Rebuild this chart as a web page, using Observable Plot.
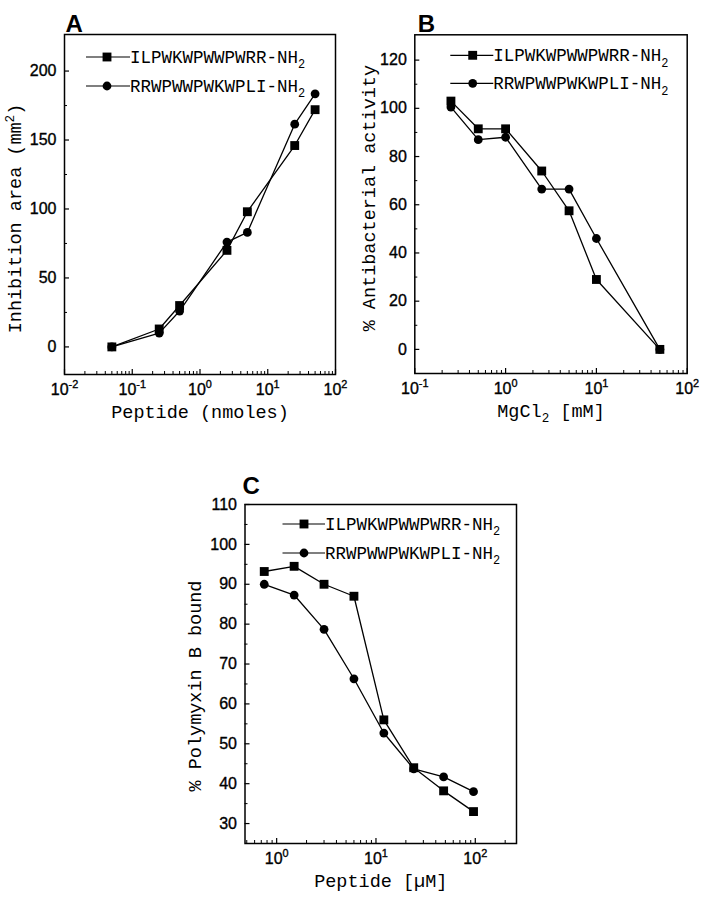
<!DOCTYPE html>
<html><head><meta charset="utf-8">
<script src="https://cdn.jsdelivr.net/npm/d3@7"></script>
<script src="https://cdn.jsdelivr.net/npm/@observablehq/plot@0.6"></script>
<style>
body{margin:0;background:#fff;}
#wrap{position:relative;width:701px;height:899px;background:#fff;}
.panel{position:absolute;}
g[aria-label="x-axis tick label"] text, g[aria-label="y-axis tick label"] text{stroke:#000;stroke-width:0.35px;}
</style></head><body><div id="wrap"></div>
<script>
// ---- data ----
const seriesNames = ["ILPWKWPWWPWRR-NH_{2}", "RRWPWWPWKWPLI-NH_{2}"];

// Panel A: inhibition area vs peptide amount
const aPeptide = [0.05, 0.25, 0.5, 2.5, 5, 25, 50];
const aSquare  = [0, 13, 30, 70, 98, 146, 172];
const aCircle  = [0, 10, 26, 76, 83, 161.5, 183.5];
const aXTicks  = [0.01, 0.1, 1, 10, 100];
const aXLabels = ["10^{-2}", "10^{-1}", "10^{0}", "10^{1}", "10^{2}"];
const aYTicks  = [0, 50, 100, 150, 200];
const aYMinor  = [25, 75, 125, 175];

// Panel B: % antibacterial activity vs MgCl2
const bMgCl2   = [0.25, 0.5, 1, 2.5, 5, 10, 50];
const bSquare  = [103, 91.5, 91.5, 74, 57.5, 29, 0];
const bCircle  = [100.5, 87, 88, 66.5, 66.5, 46, 0];
const bXTicks  = [0.1, 1, 10, 100];
const bXLabels = ["10^{-1}", "10^{0}", "10^{1}", "10^{2}"];
const bYTicks  = [0, 20, 40, 60, 80, 100, 120];
const bYMinor  = [10, 30, 50, 70, 90, 110];

// Panel C: % polymyxin B bound vs peptide concentration
const cPeptide = [0.75, 1.5, 3, 6, 12, 24, 48, 96];
const cSquare  = [93.2, 94.5, 90, 87, 56, 44, 38.2, 33];
const cCircle  = [90, 87.3, 78.7, 66.3, 52.7, 43.7, 41.7, 38];
const cXTicks  = [1, 10, 100];
const cXLabels = ["10^{0}", "10^{1}", "10^{2}"];
const cYTicks  = [30, 40, 50, 60, 70, 80, 90, 100, 110];
const cYMinor  = [35, 45, 55, 65, 75, 85, 95, 105];

// ---- helpers ----
function logMinor(lo, hi) {
  const out = [];
  for (let e = Math.floor(Math.log10(lo)); e <= Math.ceil(Math.log10(hi)); e++)
    for (let k = 2; k <= 9; k++) { const v = k * Math.pow(10, e); if (v >= lo && v <= hi) out.push(v); }
  return out;
}
const NS = "http://www.w3.org/2000/svg";
function richify(root) {
  root.querySelectorAll("text").forEach(t => {
    const s = t.textContent;
    if (!/[\^_]\{/.test(s)) return;
    const fs = parseFloat(getComputedStyle(t).fontSize) || 16;
    t.textContent = "";
    const parts = []; const re = /([\^_])\{([^}]*)\}/g; let last = 0, m;
    while ((m = re.exec(s))) {
      if (m.index > last) parts.push([s.slice(last, m.index), 0]);
      parts.push([m[2], m[1] === "^" ? -1 : 1]); last = re.lastIndex;
    }
    if (last < s.length) parts.push([s.slice(last), 0]);
    let cur = 0;
    for (const [str, k] of parts) {
      const ts = document.createElementNS(NS, "tspan");
      const target = k < 0 ? -0.42 * fs : k > 0 ? 0.3 * fs : 0;
      if (target - cur !== 0) ts.setAttribute("dy", target - cur);
      cur = target;
      if (k) ts.setAttribute("font-size", 0.68 * fs);
      ts.textContent = str; t.appendChild(ts);
    }
  });
}

function panel(cfg) {
  const fw = cfg.width - cfg.ml - cfg.mr, fh = cfg.height - cfg.mt - cfg.mb;
  const sq = cfg.x.map((x, i) => ({x, y: cfg.sq[i]}));
  const ci = cfg.x.map((x, i) => ({x, y: cfg.ci[i]}));
  const fmt = new Map(cfg.xTicks.map((t, i) => [t, cfg.xLabels[i]]));
  const chart = Plot.plot({
    width: cfg.width, height: cfg.height,
    marginLeft: cfg.ml, marginRight: cfg.mr, marginTop: cfg.mt, marginBottom: cfg.mb,
    style: {fontFamily: "'Liberation Sans', Arial, sans-serif", fontSize: "16px", background: "transparent", color: "#000", overflow: "visible"},
    x: {type: "log", domain: cfg.xDomain, axis: null},
    y: {domain: cfg.yDomain, axis: null},
    marks: [
      Plot.tickX(cfg.xTicks, {x: d => d, insetTop: fh - 5, stroke: "#000", strokeWidth: 1.2}),
      Plot.tickX(logMinor(cfg.xDomain[0], cfg.xDomain[1]), {x: d => d, insetTop: fh - 3, stroke: "#000", strokeWidth: 1}),
      Plot.tickY(cfg.yTicks, {y: d => d, insetRight: fw - 5, stroke: "#000", strokeWidth: 1.2}),
      Plot.tickY(cfg.yMinor, {y: d => d, insetRight: fw - 3, stroke: "#000", strokeWidth: 1}),
      Plot.axisX({ticks: cfg.xTicks, tickSize: 0, tickPadding: 9, tickFormat: d => fmt.get(d), label: null, fontSize: 16}),
      Plot.axisY({ticks: cfg.yTicks, tickSize: 0, tickPadding: 8, label: null, fontSize: 16}),
      Plot.frame({stroke: "#000", strokeWidth: 1.5}),
      Plot.line(sq, {x: "x", y: "y", stroke: "#000", strokeWidth: 1.3}),
      Plot.line(ci, {x: "x", y: "y", stroke: "#000", strokeWidth: 1.3}),
      Plot.dot(sq, {x: "x", y: "y", symbol: "square", r: 5, fill: "#000"}),
      Plot.dot(ci, {x: "x", y: "y", symbol: "circle", r: 4.4, fill: "#000"}),
      Plot.text([cfg.xLabel], {frameAnchor: "bottom", textAnchor: "middle", dy: cfg.xLabelDy, fontFamily: "'Liberation Mono', monospace", fontSize: 18.5}),
      Plot.text([cfg.yLabel], {frameAnchor: "left", textAnchor: "middle", rotate: -90, dx: cfg.yLabelDx, dy: cfg.yLabelDy, fontFamily: "'Liberation Mono', monospace", fontSize: 18.5}),
      Plot.text([cfg.letter], {frameAnchor: "top-left", textAnchor: "start", dx: cfg.letterDx, dy: cfg.letterDy, fontFamily: "'Liberation Sans', Arial, sans-serif", fontWeight: "bold", fontSize: 24})
    ]
  });
  // legend (inside frame, top right)
  const g = d3.select(chart).append("g").attr("aria-label", "legend").attr("text-anchor", "start");
  const L = cfg.legend;
  const syms = [d3.symbolSquare, d3.symbolCircle], rs = [5, 4.4];
  seriesNames.forEach((name, i) => {
    const y = cfg.mt + L.rows[i], x0 = cfg.ml + L.x0, x1 = cfg.ml + L.x1, xs = cfg.ml + L.xs;
    g.append("line").attr("x1", x0).attr("x2", x1).attr("y1", y).attr("y2", y).attr("stroke", "#000").attr("stroke-width", 1.2);
    g.append("path").attr("d", d3.symbol(syms[i], Math.PI * rs[i] * rs[i])()).attr("transform", `translate(${xs},${y})`).attr("fill", "#000");
    g.append("text").attr("x", x1).attr("y", y).attr("dy", "0.35em").attr("text-anchor", "start")
      .attr("font-family", "'Liberation Mono', monospace").attr("font-size", 17.5).attr("fill", "#000").text(name);
  });
  const div = document.createElement("div");
  div.className = "panel"; div.style.left = cfg.left + "px"; div.style.top = cfg.top + "px";
  div.appendChild(chart);
  document.getElementById("wrap").appendChild(div);
  richify(chart);
}

panel({
  left: 0, top: 0, width: 350, height: 440, ml: 64, mr: 15, mt: 34, mb: 66,
  x: aPeptide, sq: aSquare, ci: aCircle,
  xDomain: [0.01, 100], yDomain: [-20, 226.5],
  xTicks: aXTicks, xLabels: aXLabels, yTicks: aYTicks, yMinor: aYMinor,
  xLabel: "Peptide (nmoles)", xLabelDy: 43,
  yLabel: "Inhibition area (mm^{2})", yLabelDx: -49, yLabelDy: 14,
  letter: "A", letterDx: 1, letterDy: -20,
  legend: {x0: 22, xs: 43, x1: 66, rows: [23, 52]}
});
panel({
  left: 350, top: 0, width: 351, height: 440, ml: 64.3, mr: 14.3, mt: 34.3, mb: 67,
  x: bMgCl2, sq: bSquare, ci: bCircle,
  xDomain: [0.1, 100], yDomain: [-10, 130.5],
  xTicks: bXTicks, xLabels: bXLabels, yTicks: bYTicks, yMinor: bYMinor,
  xLabel: "MgCl_{2} [mM]", xLabelDy: 43,
  yLabel: "% Antibacterial activity", yLabelDx: -46, yLabelDy: -6,
  letter: "B", letterDx: 3, letterDy: -20,
  legend: {x0: 36, xs: 58.4, x1: 79, rows: [21, 49]}
});
panel({
  left: 150, top: 440, width: 400, height: 459, ml: 94.5, mr: 34, mt: 64, mb: 56,
  x: cPeptide, sq: cSquare, ci: cCircle,
  xDomain: [0.48, 260], yDomain: [25, 110],
  xTicks: cXTicks, xLabels: cXLabels, yTicks: cYTicks, yMinor: cYMinor,
  xLabel: "Peptide [\u00b5M]", xLabelDy: 43,
  yLabel: "% Polymyxin B bound", yLabelDx: -49.5, yLabelDy: 12,
  letter: "C", letterDx: -2.5, letterDy: -28,
  legend: {x0: 38, xs: 59.5, x1: 80.5, rows: [20, 49]}
});
</script></body></html>
